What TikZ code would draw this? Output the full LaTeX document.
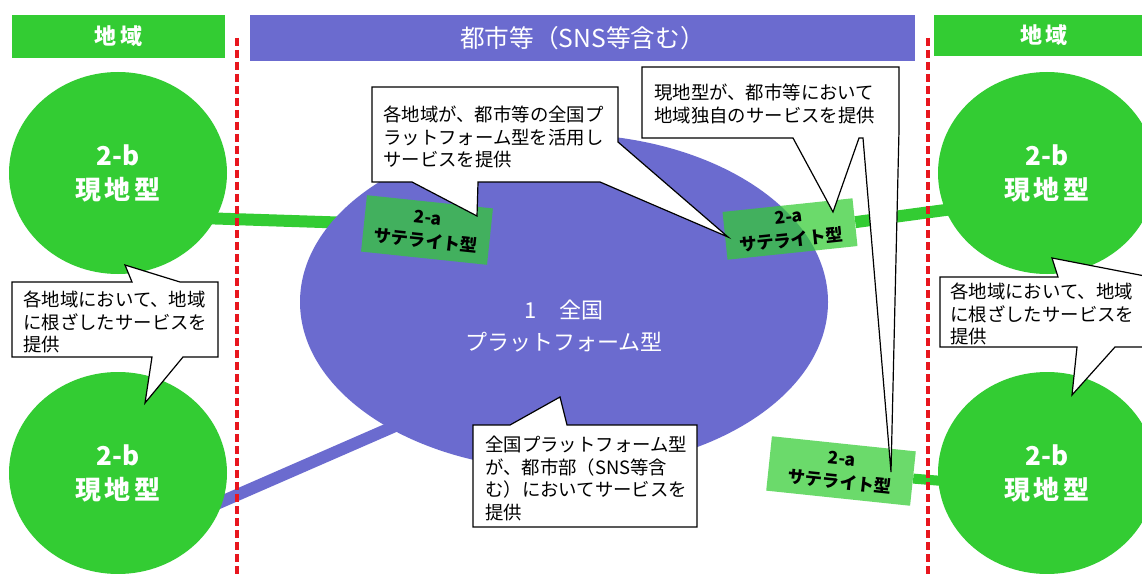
\documentclass[tikz,border=0pt]{standalone}
\usepackage{fontspec}
\setmainfont{Noto Sans CJK JP}
\usetikzlibrary{shapes.geometric}
\pgfdeclarelayer{bg}
\pgfdeclarelayer{paper}
\pgfsetlayers{paper,bg,main}
\definecolor{grn}{RGB}{51,204,51}
\definecolor{pur}{RGB}{107,107,207}
\definecolor{rdash}{RGB}{232,22,30}
\begin{document}
\begin{tikzpicture}[x=0.75pt,y=-0.75pt,
  hdrg/.style={rectangle, inner sep=0, fill=grn, text=white,
    font=\bfseries\fontsize{16.5}{18}\selectfont},
  hdrp/.style={rectangle, inner sep=0, fill=pur, text=white,
    font=\fontsize{18.5}{20}\selectfont},
  loc/.style={ellipse, inner sep=0, fill=grn, text=white, align=center,
    minimum width=163.5pt, minimum height=151.5pt,
    font=\bfseries\fontsize{19.5}{25.5}\selectfont},
  sat/.style={rectangle, inner sep=0, fill=grn, fill opacity=0.72, text opacity=1,
    text=black, align=center, font=\bfseries\fontsize{13}{17.5}\selectfont},
  bubble/.style={draw=black, fill=white, line width=0.9pt, line join=miter},
  btext/.style={anchor=north west, inner sep=0, align=left,
    font=\fontsize{13.8}{16.9}\selectfont},
  gline/.style={draw=grn, line width=9pt},
  pline/.style={draw=pur, line width=9pt},
  sepline/.style={draw=rdash, line width=2.6pt, dash pattern=on 6pt off 3pt}
]
\useasboundingbox (0,0) rectangle (1142,574);
\begin{pgfonlayer}{paper}
\fill[white] (0,0) rectangle (1142,574);
\end{pgfonlayer}
\clip (0,0) rectangle (1142,574);

% headers
\node[hdrg, minimum width=159.75pt, minimum height=32.25pt] (hl) at (118.5,36.5) {地\hspace{3pt}域};
\node[hdrp, minimum width=498.75pt, minimum height=34.5pt] (hm) at (582.5,38.5) {都市等（SNS等含む）};
\node[hdrg, minimum width=165pt, minimum height=30.75pt] (hr) at (1044,35.5) {地\hspace{3pt}域};

% separators
\draw[sepline] (237,38) -- (237,574);
\draw[sepline] (928,38) -- (928,574);

% platform ellipse
\node[ellipse, fill=pur, inner sep=0, minimum width=396pt, minimum height=252pt] (plat) at (564,302) {};
\node[text=white, align=center, inner sep=0, font=\fontsize{16.5}{24}\selectfont] (plattxt) at (564,326) {1　全国\\プラットフォーム型};
\coordinate (pin) at (402,423);

% local circles
\node[loc] (ctl) at (118,173) {2-b\\現\hspace{3pt}地\hspace{3pt}型};
\node[loc] (cbl) at (118,473) {2-b\\現\hspace{3pt}地\hspace{3pt}型};
\node[loc] (ctr) at (1047,173) {2-b\\現\hspace{3pt}地\hspace{3pt}型};
\node[loc] (cbr) at (1047,473) {2-b\\現\hspace{3pt}地\hspace{3pt}型};

% satellites
\node[sat, rotate=-6, minimum width=95pt, minimum height=42.5pt] (sat1) at (427,230) {2-a\\サテライト型};
\node[sat, rotate=6, minimum width=98pt, minimum height=36pt] (sat2) at (790,229) {2-a\\サテライト型};
\node[sat, rotate=-6, minimum width=108.5pt, minimum height=41pt] (sat3) at (841,471) {2-a\\サテライト型};

% connectors
\begin{pgfonlayer}{bg}
\draw[gline, shorten <=-8pt] (ctl.-25) -- (sat1.west);
\draw[gline, shorten >=-8pt] (sat2.east) -- (ctr.200);
\draw[gline, line width=7.5pt, shorten >=-8pt] (sat3.east) -- (cbr.184);
\draw[pline, shorten <=-8pt] (cbl.-15) -- (pin);
\end{pgfonlayer}

% callouts
\draw[bubble] (12,282) -- (132,282) -- (125,265) -- (180,282) -- (218,282) -- (218,357)
  -- (183,357) -- (145,403) -- (152,357) -- (12,357) -- cycle;
\node[btext] (ta) at (23,291) {各地域において、地域\\に根ざしたサービスを\\提供};

\draw[bubble] (940,277) -- (1058,277) -- (1052,258) -- (1150,277) -- (1160,277) -- (1160,347)
  -- (1115,347) -- (1072,395) -- (1077,347) -- (940,347) -- cycle;
\node[btext] (tb) at (950,283) {各地域において、地域\\に根ざしたサービスを\\提供};

\draw[bubble] (372,87) -- (618,87) -- (618,142) -- (728,237) -- (600,182) -- (478,182)
  -- (477,216) -- (412,182) -- (372,182) -- cycle;
\node[btext] (tc) at (383,106) {各地域が、都市等の全国プ\\ラットフォーム型を活用し\\サービスを提供};

\draw[bubble] (642,67) -- (899,67) -- (899,130) -- (891,472) -- (863,138) -- (859,138)
  -- (833,212) -- (793,138) -- (642,138) -- cycle;
\node[btext] (td) at (654,84) {現地型が、都市等において\\地域独自のサービスを提供};

\draw[bubble] (473,425) -- (510,425) -- (560,397) -- (567,425) -- (697,425) -- (697,527)
  -- (473,527) -- cycle;
\node[btext] (te) at (485,436) {全国プラットフォーム型\\が、都市部（SNS等含\\む）においてサービスを\\提供};
\end{tikzpicture}
\end{document}
